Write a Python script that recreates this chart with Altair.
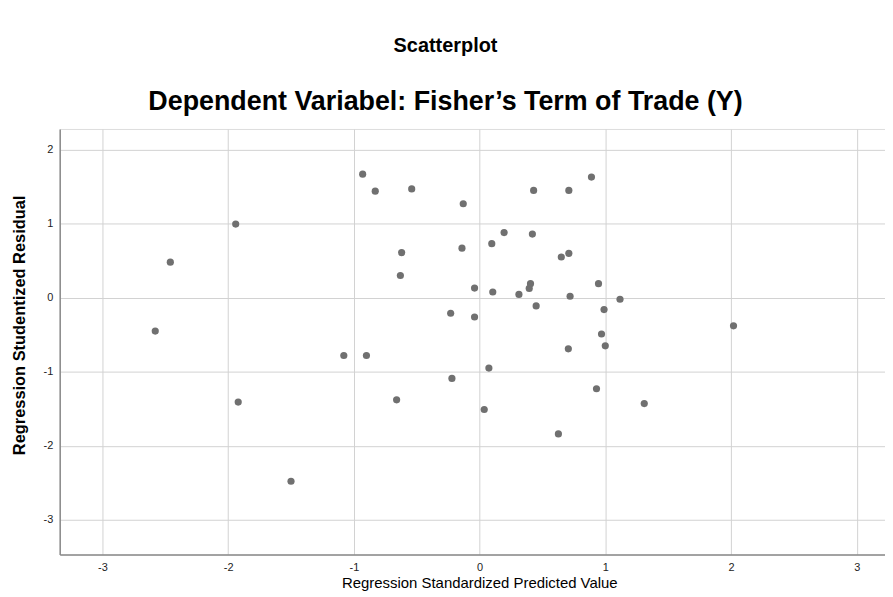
import altair as alt
import pandas as pd

# Regression Standardized Predicted Value (x) and Studentized Residual (y)
pred = [-0.93, -0.83, -0.54, -0.13, -1.94, -2.46, -0.62, -0.14, -0.63, -0.04,
        -0.23, -0.04, -2.58, -1.08, -0.90, -0.22, -1.92, -0.66, -1.50, 0.89,
        0.43, 0.71, 0.195, 0.42, 0.097, 0.65, 0.71, 0.105, 0.405, 0.395,
        0.313, 0.946, 0.72, 1.117, 0.45, 0.99, 2.02, 0.97, 1.00, 0.706,
        0.074, 0.93, 1.31, 0.037, 0.627]
resid = [1.67, 1.44, 1.47, 1.27, 0.995, 0.48, 0.61, 0.67, 0.30, 0.13,
         -0.21, -0.26, -0.45, -0.78, -0.78, -1.09, -1.41, -1.38, -2.48, 1.63,
         1.45, 1.45, 0.88, 0.86, 0.73, 0.55, 0.60, 0.077, 0.19, 0.126,
         0.045, 0.19, 0.02, -0.02, -0.11, -0.16, -0.38, -0.49, -0.65, -0.69,
         -0.95, -1.23, -1.43, -1.51, -1.84]

x_ticks = [-3, -2, -1, 0, 1, 2, 3]
y_ticks = [-3, -2, -1, 0, 1, 2]

df = pd.DataFrame({"pred": pred, "resid": resid})

sans = "Liberation Sans, Arial, sans-serif"

chart = alt.Chart(df).mark_circle(size=52, color="#707070", opacity=1).encode(
    x=alt.X("pred:Q",
            scale=alt.Scale(domain=[-3.34, 3.225], nice=False, zero=False),
            axis=alt.Axis(values=x_ticks, title="Regression Standardized Predicted Value",
                          labelExpr="'' + datum.value",
                          titleFont=sans, titleFontSize=15, titleFontWeight="normal",
                          titleColor="#000000", titlePadding=3, titleX=422,
                          labelFont=sans, labelFontSize=11, labelColor="#222222",
                          labelPadding=7, ticks=False, grid=True,
                          gridColor="#d2d2d2", gridWidth=1,
                          domainColor="#8a8a8a", domainWidth=1.5, labelFlush=False)),
    y=alt.Y("resid:Q",
            scale=alt.Scale(domain=[-3.47, 2.28], nice=False, zero=False),
            axis=alt.Axis(values=y_ticks, title="Regression Studentized Residual",
                          labelExpr="'' + datum.value",
                          titleFont=sans, titleFontSize=16.5, titleFontWeight="bold",
                          titleColor="#000000", titlePadding=16, titleY=197,
                          labelFont=sans, labelFontSize=11, labelColor="#222222",
                          labelPadding=7, ticks=False, grid=True,
                          gridColor="#d2d2d2", gridWidth=1,
                          domainColor="#8a8a8a", domainWidth=1.5, labelFlush=False)),
).properties(
    width=830,
    height=428,
    autosize=alt.AutoSizeParams(type="none"),
    padding={"left": 52, "top": 120, "right": 0, "bottom": 40},
    title=alt.TitleParams(
        text="Scatterplot",
        subtitle="Dependent Variabel: Fisher\u2019s Term of Trade (Y)",
        font=sans, fontSize=20, fontWeight="bold", color="#000000",
        subtitleFont=sans, subtitleFontSize=27, subtitleFontWeight="bold",
        subtitleColor="#000000", subtitlePadding=33,
        anchor="middle", frame="group", dx=-27, offset=14,
    ),
).configure_view(stroke=None).configure(background="#ffffff")

chart.save("out.html", embed_options={"renderer": "svg", "actions": False})
